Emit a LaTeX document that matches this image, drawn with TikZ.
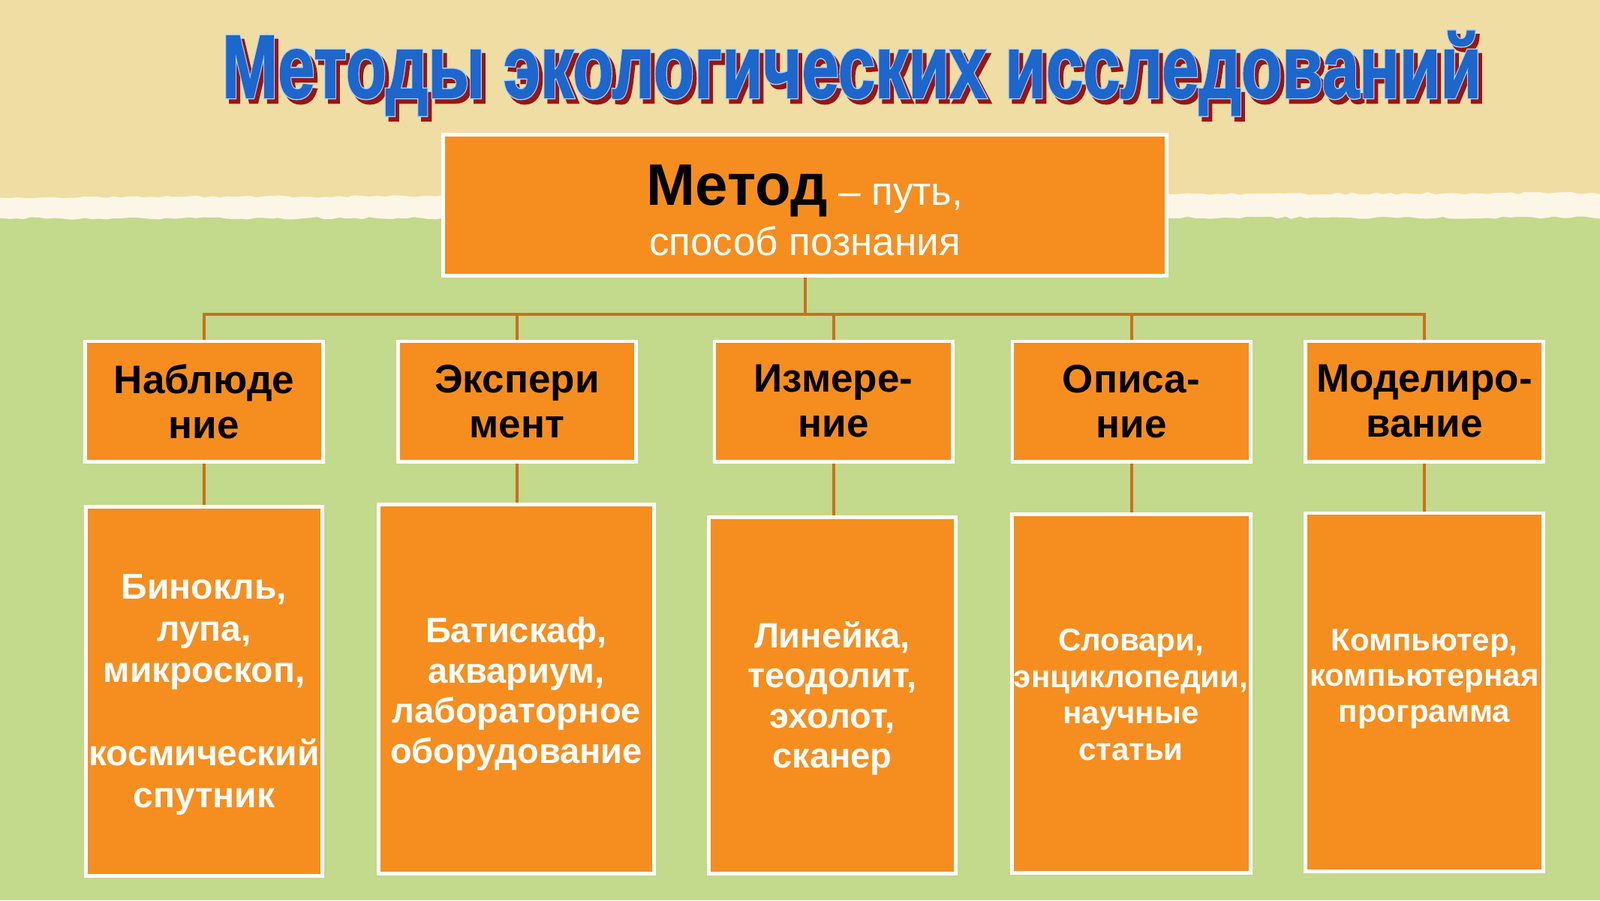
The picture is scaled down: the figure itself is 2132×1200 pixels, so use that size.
\documentclass[tikz,border=0pt]{standalone}
\usepackage{fontspec}
\usepackage{graphicx}
\setmainfont{Liberation Sans}
\newfontfamily\titlefont{Liberation Sans}[BoldFeatures={FakeBold=1.5}]
\newfontfamily\titlefat{Liberation Sans}[BoldFeatures={FakeBold=4}]
\usetikzlibrary{decorations.pathmorphing}

\definecolor{beige}{HTML}{F0DDA4}
\definecolor{stripc}{HTML}{FCF6E6}
\definecolor{grass}{HTML}{C3D98C}
\definecolor{boxor}{HTML}{F68E1F}
\definecolor{connc}{HTML}{C9711D}
\definecolor{tblue}{HTML}{1D66CC}
\definecolor{tlight}{HTML}{A9D1F5}
\definecolor{tred}{HTML}{9A1414}

\pgfdeclarelayer{bg}
\pgfdeclarelayer{lines}
\pgfsetlayers{bg,lines,main}

\newcommand{\titletxt}[1]{\resizebox{839pt}{\height}{#1\bfseries\fontsize{59.5pt}{60pt}\selectfont Методы экологических исследований}}

\tikzset{
  box/.style={draw=white, line width=2.4pt, fill=boxor, inner sep=0pt},
  lvtwo/.style={box, minimum width=158.6pt, minimum height=80.1pt, align=center,
     font=\fontsize{26.5pt}{30pt}\selectfont\bfseries, text=black},
  lbl/.style={align=center, text=white, inner sep=0pt},
  cn/.style={draw=connc, line width=2pt},
  ttl/.style={anchor=base, inner sep=0pt},
  torn/.style={decorate, decoration={random steps, segment length=5pt, amplitude=0.8pt}}
}

\begin{document}
\begin{tikzpicture}[x=0.5pt,y=-0.5pt]
\useasboundingbox (0,0) rectangle (2132,1200);

\begin{pgfonlayer}{bg}
  \clip (0,0) rectangle (2132,1200);
  \fill[grass] (0,0) rectangle (2132,1200);
  \fill[stripc, torn] (-20,-20) -- (2152,-20) -- (2152,290) -- (-20,291) -- cycle;
  \fill[beige, torn] (-20,-20) -- (2152,-20) -- (2152,257) -- (-20,263) -- cycle;
\end{pgfonlayer}

% title
\node[ttl, text=tred] (tsh) at (1140,136) {\titletxt{\titlefat}};
\node[ttl, text=tlight] (tol) at (1135,130) {\titletxt{\titlefat}};
\node[ttl, text=tblue] (title) at (1135,130) {\titletxt{\titlefont}};

% top box
\node[box, minimum width=482.1pt, minimum height=94.1pt] (top) at (1072.5,273.5) {};
\node[lbl, font=\fontsize{26.5pt}{33.5pt}\selectfont] (toptext) at (1072.5,280.5)
  {{\fontsize{39pt}{33.5pt}\selectfont\bfseries\textcolor{black}{Метод}} – путь,\\способ познания};

% level 2
\node[lvtwo] (b1) at (272,535) {Наблюде\\ние};
\node[lvtwo] (b2) at (689,535) {Экспери\\мент};
\node[lvtwo] (b3) at (1110.5,535) {Измере-\\ние};
\node[lvtwo] (b4) at (1507.5,535) {Описа-\\ние};
\node[lvtwo] (b5) at (1898,535) {Моделиро-\\вание};

% level 3
\node[box, minimum width=157.6pt, minimum height=246.1pt] (m1) at (272,921.5) {};
\node[box, minimum width=183.6pt, minimum height=246.1pt] (m2) at (688,918.5) {};
\node[box, minimum width=164.6pt, minimum height=237.6pt] (m3) at (1109,927) {};
\node[box, minimum width=159.1pt, minimum height=239.1pt] (m4) at (1507.5,924.5) {};
\node[box, minimum width=158.6pt, minimum height=238.6pt] (m5) at (1898,922.5) {};

\node[lbl, font=\fontsize{24pt}{27.8pt}\selectfont\bfseries] (t1) at (272,926)
  {Бинокль,\\лупа,\\микроскоп,\\\mbox{}\\космический\\спутник};
\node[lbl, font=\fontsize{23.5pt}{26.75pt}\selectfont\bfseries] (t2) at (688,925)
  {Батискаф,\\аквариум,\\лабораторное\\оборудование};
\node[lbl, font=\fontsize{23.5pt}{26.75pt}\selectfont\bfseries] (t3) at (1109,931)
  {Линейка,\\теодолит,\\эхолот,\\сканер};
\node[lbl, font=\fontsize{21pt}{24.2pt}\selectfont\bfseries] (t4) at (1507,926)
  {Словари,\\энциклопедии,\\научные\\статьи};
\node[lbl, font=\fontsize{21pt}{23.8pt}\selectfont\bfseries] (t5) at (1898,904.5)
  {Компьютер,\\компьютерная\\программа};

% connectors
\coordinate (j0) at (1072.5,419);
\begin{pgfonlayer}{lines}
  \draw[cn] (top.south) -- (j0);
  \draw[cn] (b1.north) -- (b1.north |- j0) -- (b5.north |- j0) -- (b5.north);
  \draw[cn] (b2.north) -- (b2.north |- j0);
  \draw[cn] (b3.north) -- (b3.north |- j0);
  \draw[cn] (b4.north) -- (b4.north |- j0);
  \draw[cn] (b1.south) -- (b1.south |- m1.north);
  \draw[cn] (b2.south) -- (b2.south |- m2.north);
  \draw[cn] (b3.south) -- (b3.south |- m3.north);
  \draw[cn] (b4.south) -- (b4.south |- m4.north);
  \draw[cn] (b5.south) -- (b5.south |- m5.north);
\end{pgfonlayer}
\end{tikzpicture}
\end{document}
